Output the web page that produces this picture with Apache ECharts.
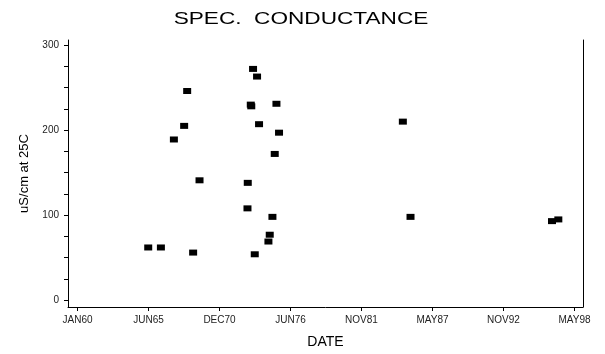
<!DOCTYPE html>
<html>
<head>
<meta charset="utf-8">
<script src="https://cdn.jsdelivr.net/npm/echarts@6/dist/echarts.min.js"></script>
<style>html,body{margin:0;padding:0;background:#fff}#c{width:605px;height:354px}</style>
</head>
<body>
<div id="c"></div>
<script>
// Sample dates as SAS day numbers (days since 1 Jan 1960)
var sampleDays = [1992, 2349, 2715, 3004, 3089, 3257, 3437, 4945, 5058, 4881, 4895, 5604, 5114, 5677, 4796, 5556, 4788, 5491, 5415, 5378, 4993, 9165, 9381, 13367, 13545];
// Specific conductance, uS/cm at 25C
var conductance = [62, 62, 189, 205, 246, 56, 141, 272, 263, 230, 228, 231, 207, 197, 138, 172, 108, 98, 77, 69, 54, 210, 98, 93, 95];
// X axis tick positions and labels
var xTickDays = [0, 2000, 4000, 6000, 8000, 10000, 12000, 14000];
var xTickLabels = ['JAN60', 'JUN65', 'DEC70', 'JUN76', 'NOV81', 'MAY87', 'NOV92', 'MAY98'];
// Y axis tick values
var yLabelValues = [0, 100, 200, 300];
var yTickValues = [0, 25, 50, 75, 100, 125, 150, 175, 200, 225, 250, 275, 300];
var chartTitle = 'SPEC.  CONDUCTANCE';

var points = sampleDays.map(function (d, i) { return [d, conductance[i]]; });
var chart = echarts.init(document.getElementById('c'), null, {renderer: 'canvas'});
var labelFont = {fontFamily: 'Liberation Sans', fontSize: 10, color: '#222'};
chart.setOption({
  animation: false,
  backgroundColor: '#fff',
  graphic: [{
    type: 'text', x: 301, y: 19, scaleX: 1.33, originX: 0, originY: 0,
    style: {
      text: chartTitle, textAlign: 'center', textVerticalAlign: 'middle',
      font: '17px "Liberation Sans"', fill: '#000'
    }
  }],
  grid: {left: 68, right: 22, top: 40, bottom: 45, containLabel: false},
  xAxis: {
    type: 'value', min: -268, max: 14240,
    name: 'DATE', nameLocation: 'middle', nameGap: 28,
    nameTextStyle: {fontFamily: 'Liberation Sans', fontSize: 14, color: '#000'},
    axisLine: {show: true, onZero: false, lineStyle: {color: '#000', width: 1}},
    axisTick: {show: true, inside: false, length: 4, customValues: xTickDays, lineStyle: {color: '#000'}},
    axisLabel: Object.assign({
      customValues: xTickDays, margin: 8,
      formatter: function (v) { var i = xTickDays.indexOf(v); return i >= 0 ? xTickLabels[i] : ''; }
    }, labelFont),
    splitLine: {show: false}
  },
  yAxis: [{
    type: 'value', min: -8, max: 306,
    name: 'uS/cm at 25C', nameLocation: 'middle', nameGap: 27, nameRotate: 90,
    nameTextStyle: {fontFamily: 'Liberation Sans', fontSize: 13, color: '#000'},
    axisLine: {show: true, onZero: false, lineStyle: {color: '#000', width: 1}},
    axisTick: {show: true, inside: false, length: 4, customValues: yTickValues, lineStyle: {color: '#000'}},
    axisLabel: Object.assign({customValues: yLabelValues, margin: 9}, labelFont),
    splitLine: {show: false}
  }, {
    type: 'value', min: -8, max: 306, position: 'right',
    axisLine: {show: true, onZero: false, lineStyle: {color: '#000', width: 1}},
    axisTick: {show: false}, axisLabel: {show: false}, splitLine: {show: false}
  }],
  series: [{
    type: 'scatter',
    data: points,
    symbol: 'rect',
    symbolSize: [8, 6],
    itemStyle: {color: '#000', opacity: 1}
  }]
});
</script>
</body>
</html>
